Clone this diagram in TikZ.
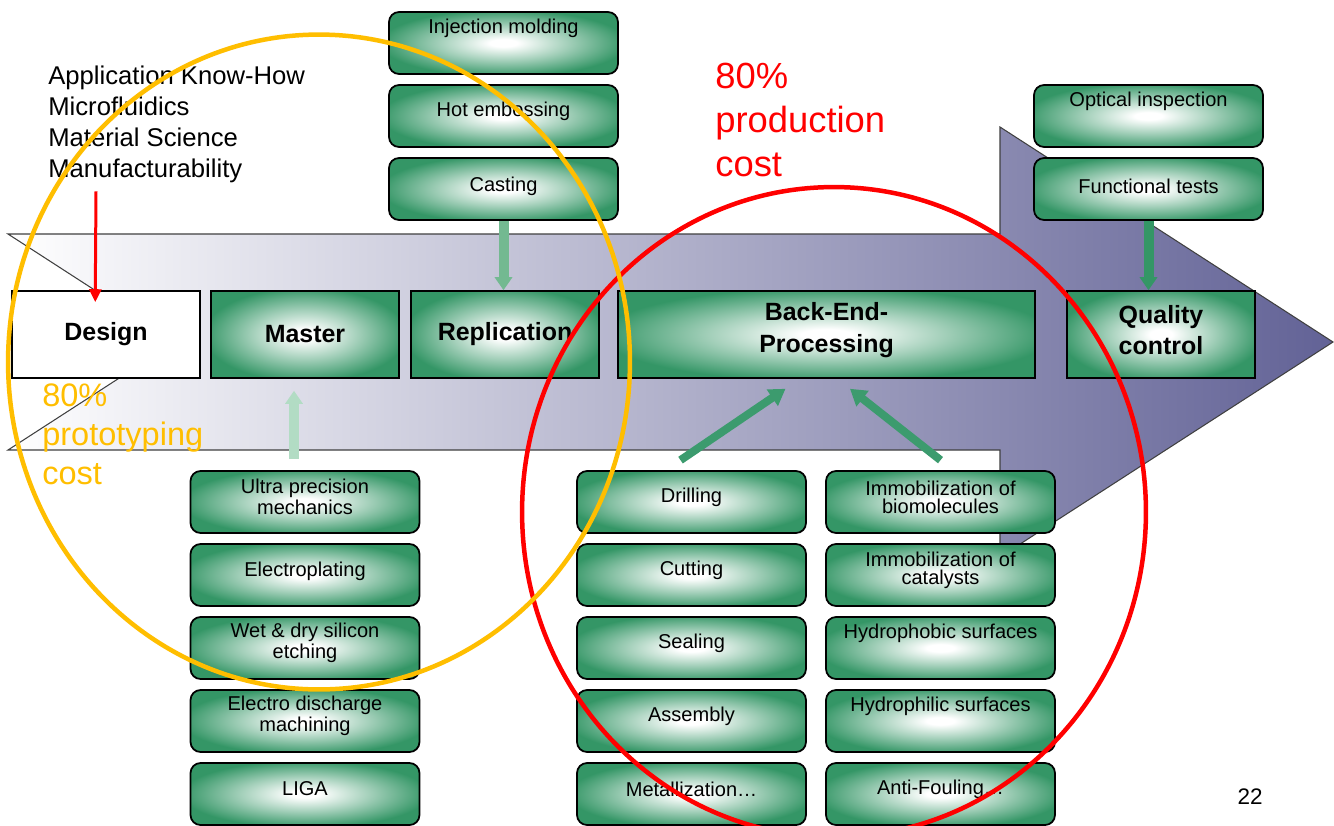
\documentclass[tikz,border=0pt]{standalone}
\usepackage{fontspec}
\setmainfont{Liberation Sans}
\usetikzlibrary{arrows.meta,calc,positioning}

\definecolor{boxgreen}{RGB}{52,150,102}
\definecolor{flowblue}{RGB}{98,98,150}
\definecolor{costred}{RGB}{255,0,0}
\definecolor{costorange}{RGB}{255,190,0}
\definecolor{liftgreen}{RGB}{60,155,110}
\definecolor{hatchgreen}{RGB}{115,185,145}
\definecolor{palegreen}{RGB}{178,220,196}

\pgfdeclareradialshading{glow}{\pgfpoint{0bp}{0bp}}{color(0bp)=(white); color(3bp)=(white); color(14bp)=(white!55!boxgreen); color(27bp)=(boxgreen); color(50bp)=(boxgreen)}

\tikzset{
    stagebox/.style={draw=black, line width=0.9pt, minimum width=3.76cm, minimum height=1.74cm,
        font=\fontsize{14.2}{18.1}\selectfont\bfseries, align=center},
    stage/.style={stagebox, shade, shading=glow},
    stagetext/.style={font=\fontsize{14.2}{18.1}\selectfont\bfseries, align=center, inner sep=0pt},
    tool/.style={draw=black, line width=1pt, rounded corners=0.2cm, minimum width=4.58cm,
        minimum height=1.24cm, shade, shading=glow},
    tooltext/.style={font=\fontsize{11.4}{10.3}\selectfont, align=center, inner sep=0pt},
    feed/.style={line width=0.2cm, -{Triangle[width=0.34cm, length=0.26cm]}},
    lift/.style={liftgreen, line width=0.16cm, -{Triangle[width=0.38cm, length=0.32cm]}},
    costtext/.style={anchor=north west, inner sep=0pt, align=left},
}

\begin{document}
\begin{tikzpicture}[x=0.02cm, y=-0.02cm]
    % the frame
    \useasboundingbox (0,0) rectangle (1334,825);
    \fill[white] (0,0) rectangle (1334,825);

    % the process arrow
    \shade[left color=white, right color=flowblue, draw=black!75, line width=0.6pt]
        (8,234) -- (1000,234) -- (1000,127) -- (1333,342) -- (1000,557) -- (1000,450)
        -- (8,450) -- (175,342) -- cycle;

    % the stages
    \node[stagebox, fill=white] (design) at (106,334.5) {Design};
    \node[stage] (master) at (305,334.5) {Master};
    \node[stage] (repl) at (505,334.5) {Replication};
    \node[stage, minimum width=8.34cm] (backend) at (826.5,334.5) {};
    \node[stagetext] (backend-t) at ([yshift=0.09cm]backend.center) {Back-End-\\Processing};
    \node[stage] (qc) at (1161,334.5) {};
    \node[stagetext] (qc-t) at ([yshift=0.09cm]qc.center) {Quality\\control};

    % the tools
    \foreach \txt/\nm/\dy [count=\i] in {Injection molding/inj/0.3, Hot embossing/hot/0.1, Casting/cast/0.06} {
        \node[tool] (\nm) at (503.5, {43+(\i-1)*73}) {};
        \node[tooltext] (\nm-t) at ([yshift=\dy cm]\nm.center) {\txt};
    };
    \foreach \txt/\nm/\dy [count=\i] in {Ultra precision\\mechanics/up/0.1, Electroplating/ep/0.08,
            Wet \& dry silicon\\etching/wd/0.1, Electro discharge\\machining/edm/0.1, LIGA/liga/0.1} {
        \node[tool] (\nm) at (305, {502+(\i-1)*73}) {};
        \node[tooltext] (\nm-t) at ([yshift=\dy cm]\nm.center) {\txt};
    };
    \foreach \txt/\nm/\dy [count=\i] in {Drilling/dr/0.1, Cutting/cut/0.1, Sealing/seal/0.1,
            Assembly/asm/0.1, Metallization…/met/0.1} {
        \node[tool] (\nm) at (691.5, {502+(\i-1)*73}) {};
        \node[tooltext] (\nm-t) at ([yshift=\dy cm]\nm.center) {\txt};
    };
    \foreach \txt/\nm/\dy [count=\i] in {Immobilization of\\biomolecules/ib/0.1, Immobilization of\\catalysts/ic/0.1,
            Hydrophobic surfaces/hphob/0.3, Hydrophilic surfaces/hphil/0.3, Anti-Fouling…/af/0.1} {
        \node[tool] (\nm) at (940.5, {502+(\i-1)*73}) {};
        \node[tooltext] (\nm-t) at ([yshift=\dy cm]\nm.center) {\txt};
    };
    \foreach \txt/\nm/\dy [count=\i] in {Optical inspection/opt/0.3, Functional tests/func/0.06} {
        \node[tool] (\nm) at (1148.5, {116+(\i-1)*73}) {};
        \node[tooltext] (\nm-t) at ([yshift=\dy cm]\nm.center) {\txt};
    };

    % arrows
    \draw[feed, hatchgreen] (cast.south) -- (cast.south |- repl.north);
    \draw[feed, palegreen] ($(up.north)+(-11,-11)$) -- ($(master.south)+(-11,12)$);
    \draw[feed, boxgreen] (func.south) -- (func.south |- qc.north);
    \draw[lift] ($(dr.north)+(-11,-10)$) -- ($(backend.south)+(-41,10)$);
    \draw[lift] ($(ib.north)+(0,-10)$) -- ($(backend.south)+(23.5,10)$);

    % texts
    \node[costtext, font=\fontsize{14.6}{17.6}\selectfont] (know) at (48,66)
        {Application Know-How\\Microfluidics\\Material Science\\Manufacturability};
    \draw[costred, line width=0.06cm, -{Triangle[width=0.24cm, length=0.26cm]}]
        ($(know.south west)+(48,8)$) -- ($(design.north west)+(84,12)$);
    \node[costtext, text=costred, font=\fontsize{20.7}{25}\selectfont] (prodcost) at (715,63)
        {80\%\\production\\cost};
    \node[costtext, text=costorange, font=\fontsize{18.5}{22.4}\selectfont] (protocost) at (42,383)
        {80\%\\prototyping\\cost};
    \node[font=\fontsize{12.8}{15}\selectfont, inner sep=0pt] (page) at (1250,797) {22};

    % the cost circles
    \draw[costred, line width=0.09cm] (834,512) ellipse [x radius=6.24cm, y radius=6.5cm];
    \draw[costorange, line width=0.09cm] (319,362) ellipse [x radius=6.22cm, y radius=6.55cm];
\end{tikzpicture}
\end{document}
